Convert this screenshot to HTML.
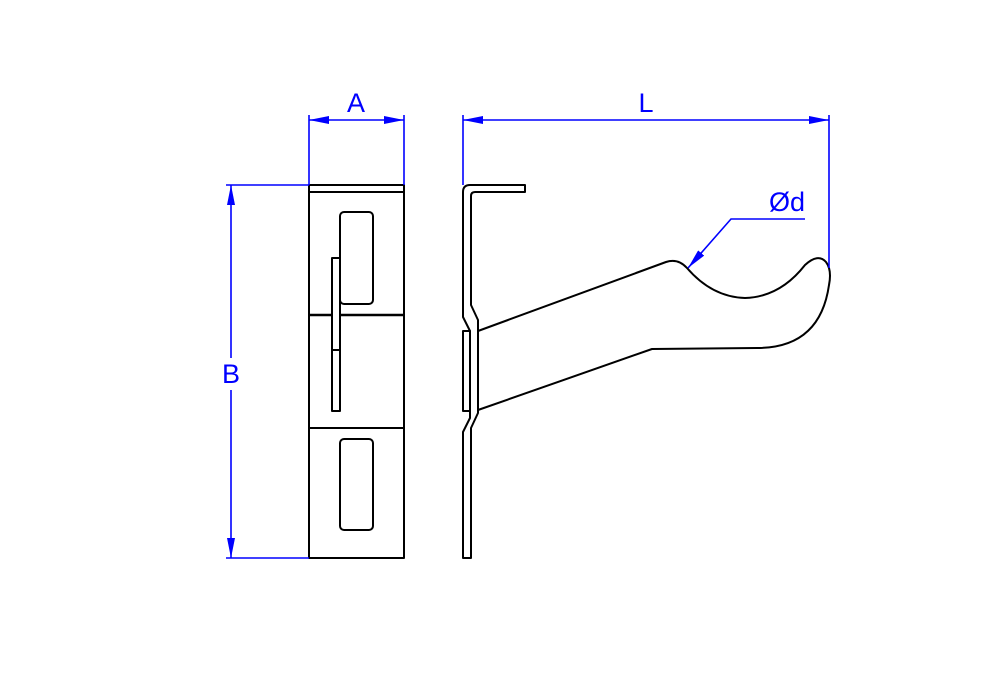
<!DOCTYPE html>
<html><head><meta charset="utf-8"><style>
html,body{margin:0;padding:0;background:#fff;}
svg{display:block;}
text{font-family:"Liberation Sans",sans-serif;fill:#0000ff;font-size:27px;}
</style></head><body>
<svg width="1000" height="700" viewBox="0 0 1000 700" xmlns="http://www.w3.org/2000/svg">
<defs>
<marker id="ar" viewBox="0 0 20 8" refX="20" refY="4" markerWidth="20" markerHeight="8" markerUnits="userSpaceOnUse" orient="auto-start-reverse">
<path d="M0,0 L20,4 L0,8 z" fill="#0000ff"/>
</marker>
</defs>
<g fill="none" stroke="#000" stroke-width="2" stroke-linejoin="round">
<rect x="309" y="185" width="95" height="373"/>
<line x1="309" y1="192" x2="404" y2="192"/>
<line x1="309" y1="315" x2="404" y2="315" stroke-width="2.4"/>
<line x1="309" y1="428" x2="404" y2="428"/>
<rect x="340" y="212" width="33" height="92" rx="4"/>
<rect x="340" y="439" width="33" height="91" rx="4"/>
<rect x="332" y="258" width="8" height="153" fill="#fff"/>
<line x1="332" y1="350" x2="340" y2="350"/>
<path d="M463,558 L463,432 L470,418 L470,331 L463,317 L463,192 Q463,185 470,185 L525,185 L525,192 L475,192 Q471,192 471,196 L471,305 L478,320 L478,413 L471,428 L471,558 Z"/>
<rect x="463" y="331" width="7" height="80"/>
<path d="M478,331 L666,262 Q678,258 687,268 Q712,297 745,298 Q780,297 805,265 Q818,253 826,262 Q832,270 829,285 Q820,348 757,348 L652,349 L478,410"/>
</g>
<g stroke="#0000ff" stroke-width="1.6" fill="none">
<line x1="309" y1="115" x2="309" y2="185"/>
<line x1="404" y1="115" x2="404" y2="185"/>
<line x1="309" y1="120" x2="404" y2="120" marker-start="url(#ar)" marker-end="url(#ar)"/>
<line x1="463" y1="115" x2="463" y2="185"/>
<line x1="829" y1="115" x2="829" y2="268"/>
<line x1="463" y1="120" x2="829" y2="120" marker-start="url(#ar)" marker-end="url(#ar)"/>
<line x1="226" y1="185" x2="309" y2="185"/>
<line x1="226" y1="558" x2="309" y2="558"/>
<line x1="231" y1="185" x2="231" y2="358" marker-start="url(#ar)"/>
<line x1="231" y1="390" x2="231" y2="558" marker-end="url(#ar)"/>
<polyline points="805,219 731,219 688,268" marker-end="url(#ar)"/>
</g>
<text x="356" y="112" text-anchor="middle">A</text>
<text x="646" y="112" text-anchor="middle">L</text>
<text x="231" y="383" text-anchor="middle">B</text>
<text x="787" y="211" text-anchor="middle">Ød</text>
</svg>
</body></html>
